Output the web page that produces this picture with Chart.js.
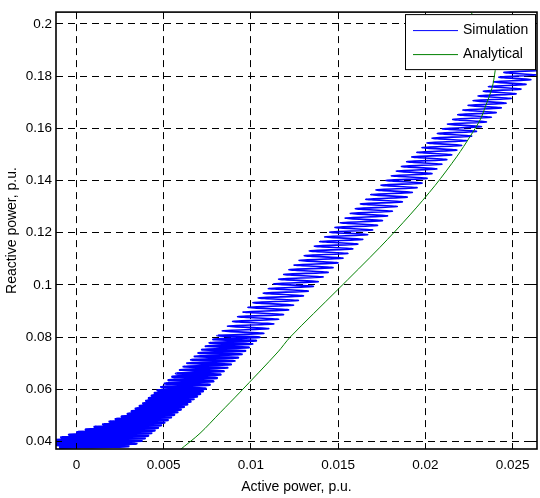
<!DOCTYPE html>
<html><head><meta charset="utf-8">
<script src="https://cdn.jsdelivr.net/npm/chart.js@4.4.0/dist/chart.umd.min.js"></script>
<style>html,body{margin:0;padding:0;background:#fff;} canvas{display:block;}</style>
</head><body>
<canvas id="c" width="540" height="498"></canvas>
<script>
// ---- axis ticks ----
const xTicks = [0, 0.005, 0.01, 0.015, 0.02, 0.025];
const xTickLabels = ['0', '0.005', '0.01', '0.015', '0.02', '0.025'];
const yTicks = [0.04, 0.06, 0.08, 0.1, 0.12, 0.14, 0.16, 0.18, 0.2];
const yTickLabels = ['0.04', '0.06', '0.08', '0.1', '0.12', '0.14', '0.16', '0.18', '0.2'];
const xRange = [-0.001175, 0.0264];
const yRange = [0.0371, 0.2045];

// ---- Simulation: oscillating trajectory, each swing from a left end to a right end ----
const simLeftX = [
  -0.0010, -0.0012, -0.0013, -0.00119, -0.00087, -0.00042, 0.00005, 0.00054, 0.00104, 0.00153,
  0.0019, 0.00225, 0.0026, 0.00294, 0.00317, 0.0034, 0.00363, 0.00383, 0.004, 0.00416,
  0.00432, 0.00449, 0.00465,
  0.00486, 0.00507, 0.00528, 0.0055, 0.00571, 0.00592, 0.00613, 0.00634, 0.00656, 0.00677,
  0.00698, 0.00719, 0.0074, 0.00762, 0.00783,
  0.00807, 0.00836, 0.00866, 0.00895, 0.00924, 0.00954, 0.00983, 0.01012, 0.01042, 0.01071,
  0.011, 0.0113, 0.01159, 0.01188, 0.01218, 0.01247, 0.01276, 0.01306, 0.01335, 0.01364,
  0.01394, 0.01423, 0.01452, 0.01482, 0.01511, 0.0154, 0.0157, 0.01599, 0.01628, 0.01658,
  0.01687, 0.01717, 0.01746, 0.01775, 0.01805, 0.01834, 0.01863, 0.01893, 0.01922, 0.01951,
  0.01981, 0.0201, 0.02039, 0.02069, 0.02098, 0.02127, 0.02157, 0.02186, 0.02215, 0.02245,
  0.02274, 0.02303, 0.02333, 0.02362, 0.02391, 0.02421, 0.0245
];
const simLeftY = [
  0.0376, 0.0386, 0.0396, 0.0406, 0.0416, 0.0426, 0.0436, 0.0446, 0.0456, 0.0466,
  0.0476, 0.0486, 0.0496, 0.0506, 0.0516, 0.0526, 0.0536, 0.0546, 0.0556, 0.0566,
  0.0576, 0.0586, 0.0596,
  0.0609, 0.0622, 0.0635, 0.0648, 0.0661, 0.0674, 0.0687, 0.0700, 0.0713, 0.0726,
  0.0739, 0.0752, 0.0765, 0.0778, 0.0791,
  0.0806, 0.0824, 0.0842, 0.0860, 0.0878, 0.0896, 0.0914, 0.0932, 0.0950, 0.0968,
  0.0986, 0.1004, 0.1022, 0.1040, 0.1058, 0.1076, 0.1094, 0.1112, 0.1130, 0.1148,
  0.1166, 0.1184, 0.1202, 0.1220, 0.1238, 0.1256, 0.1274, 0.1292, 0.1310, 0.1328,
  0.1346, 0.1364, 0.1382, 0.1400, 0.1418, 0.1436, 0.1454, 0.1472, 0.1490, 0.1508,
  0.1526, 0.1544, 0.1562, 0.1580, 0.1598, 0.1616, 0.1634, 0.1652, 0.1670, 0.1688,
  0.1706, 0.1724, 0.1742, 0.1760, 0.1778, 0.1796, 0.1814
];
const simRightX = [
  0.00297, 0.00343, 0.00372, 0.00391, 0.0041, 0.00428, 0.00447, 0.00466, 0.00484, 0.00503,
  0.00522, 0.00541, 0.00559, 0.00578, 0.00597, 0.00615, 0.00634, 0.00653, 0.00671, 0.0069,
  0.00708, 0.00724, 0.0074,
  0.00763, 0.00784, 0.00804, 0.00825, 0.00845, 0.00866, 0.00886, 0.00907, 0.00927, 0.00948,
  0.00968, 0.00989, 0.01009, 0.0103, 0.0105,
  0.01074, 0.01102, 0.01131, 0.01159, 0.01187, 0.01216, 0.01244, 0.01272, 0.01301, 0.01329,
  0.01358, 0.01386, 0.01414, 0.01443, 0.01471, 0.01499, 0.01528, 0.01556, 0.01584, 0.01613,
  0.01641, 0.01669, 0.01698, 0.01726, 0.01754, 0.01783, 0.01811, 0.01839, 0.01868, 0.01896,
  0.01925, 0.01953, 0.01981, 0.0201, 0.02038, 0.02066, 0.02095, 0.02123, 0.02151, 0.0218,
  0.02208, 0.02236, 0.02265, 0.02293, 0.02321, 0.0235, 0.02378, 0.02406, 0.02435, 0.02463,
  0.02492, 0.0252, 0.02548, 0.02577, 0.02605, 0.02633, 0.0268
];
const simRightY = [
  0.0382, 0.0392, 0.0402, 0.0412, 0.0422, 0.0432, 0.0442, 0.0452, 0.0462, 0.0472,
  0.0482, 0.0492, 0.0502, 0.0512, 0.0522, 0.0532, 0.0542, 0.0552, 0.0562, 0.0572,
  0.0582, 0.0592, 0.0602,
  0.0617, 0.0630, 0.0643, 0.0656, 0.0669, 0.0682, 0.0695, 0.0708, 0.0721, 0.0734,
  0.0747, 0.0760, 0.0773, 0.0786, 0.0799,
  0.0814, 0.0832, 0.0850, 0.0868, 0.0886, 0.0904, 0.0922, 0.0940, 0.0958, 0.0976,
  0.0994, 0.1012, 0.1030, 0.1048, 0.1066, 0.1084, 0.1102, 0.1120, 0.1138, 0.1156,
  0.1174, 0.1192, 0.1210, 0.1228, 0.1246, 0.1264, 0.1282, 0.1300, 0.1318, 0.1336,
  0.1354, 0.1372, 0.1390, 0.1408, 0.1426, 0.1444, 0.1462, 0.1480, 0.1498, 0.1516,
  0.1534, 0.1552, 0.1570, 0.1588, 0.1606, 0.1624, 0.1642, 0.1660, 0.1678, 0.1696,
  0.1714, 0.1732, 0.1750, 0.1768, 0.1786, 0.1804, 0.1822
];

// ---- Analytical curve ----
const anaP = [0.0059, 0.00708, 0.00823, 0.00938, 0.01155, 0.01224, 0.01494, 0.0174, 0.01912, 0.02056,
  0.02182, 0.02256, 0.02314, 0.02343, 0.02383, 0.024, 0.02406, 0.02394, 0.02365, 0.02325, 0.02279, 0.02228];
const anaQ = [0.0366, 0.0431, 0.0510, 0.0589, 0.0743, 0.0799, 0.0979, 0.1144, 0.1268, 0.1381,
  0.1493, 0.1568, 0.1632, 0.1681, 0.1756, 0.1820, 0.1861, 0.1906, 0.1948, 0.1993, 0.2030, 0.2068];

const seriesLabels = ['Simulation', 'Analytical'];
const seriesColors = ['#0000ff', '#008000'];

// build datasets
const simData = [];
for (let i = 0; i < simLeftX.length; i++) {
  simData.push({x: simLeftX[i], y: simLeftY[i]});
  simData.push({x: simRightX[i], y: simRightY[i]});
}
const anaData = anaP.map((p, i) => ({x: p, y: anaQ[i]}));

const FONT = "'Liberation Sans', Arial, Helvetica, sans-serif";

const axesBox = {
  id: 'axesBox',
  afterDatasetsDraw(chart) {
    const {ctx, chartArea: a, scales: {x, y}} = chart;
    const al = p => Math.round(p - 0.5) + 0.5;
    ctx.save();
    ctx.strokeStyle = '#000';
    ctx.lineWidth = 1;
    ctx.setLineDash([]);
    ctx.beginPath();
    x.ticks.forEach(t => {
      const px = al(x.getPixelForValue(t.value));
      ctx.moveTo(px, a.bottom); ctx.lineTo(px, a.bottom - 6);
      ctx.moveTo(px, a.top); ctx.lineTo(px, a.top + 6);
    });
    y.ticks.forEach(t => {
      const py = al(y.getPixelForValue(t.value));
      ctx.moveTo(a.left, py); ctx.lineTo(a.left + 6, py);
      ctx.moveTo(a.right, py); ctx.lineTo(a.right - 6, py);
    });
    ctx.stroke();
    ctx.lineWidth = 1.6;
    ctx.strokeRect(a.left, a.top, a.right - a.left, a.bottom - a.top);
    ctx.restore();
  }
};

const boxLegend = {
  id: 'boxLegend',
  afterDraw(chart) {
    const {ctx, chartArea: a} = chart;
    const x0 = a.right - 132, y0 = a.top + 2, w = 131, h = 56;
    ctx.save();
    ctx.fillStyle = '#fff';
    ctx.fillRect(x0, y0, w, h);
    ctx.strokeStyle = '#000';
    ctx.lineWidth = 1;
    ctx.setLineDash([]);
    ctx.strokeRect(x0 + 0.5, y0 + 0.5, w - 1, h - 1);
    ctx.font = '14px ' + FONT;
    ctx.textBaseline = 'middle';
    ctx.textAlign = 'left';
    [0, 1].forEach((k, row) => {
      const ds = chart.data.datasets[k];
      const cy = y0 + 16.5 + row * 24;
      ctx.strokeStyle = ds.borderColor;
      ctx.lineWidth = 1;
      ctx.beginPath();
      ctx.moveTo(x0 + 8, cy); ctx.lineTo(x0 + 53, cy);
      ctx.stroke();
      ctx.fillStyle = '#000';
      ctx.fillText(ds.label, x0 + 58, cy);
    });
    ctx.restore();
  }
};

new Chart(document.getElementById('c'), {
  type: 'scatter',
  data: {
    datasets: [
      {label: seriesLabels[0], data: simData, showLine: true, borderColor: seriesColors[0], backgroundColor: seriesColors[0],
       borderWidth: 1.6, pointRadius: 0, tension: 0.25, order: 1,
       segment: {borderWidth: c => (c.p0.parsed.y < 0.066 ? 2.6 : (c.p0.parsed.y < 0.08 ? 2.1 : 1.6))}},
      {label: seriesLabels[1], data: anaData, showLine: true, borderColor: seriesColors[1], backgroundColor: seriesColors[1],
       borderWidth: 1, pointRadius: 0, tension: 0.3, order: 0}
    ]
  },
  options: {
    responsive: false,
    animation: false,
    devicePixelRatio: 1,
    layout: {padding: {left: 0, right: 3, top: 3, bottom: 0}},
    plugins: {legend: {display: false}, tooltip: {enabled: false}},
    scales: {
      x: {
        type: 'linear', min: xRange[0], max: xRange[1],
        afterBuildTicks: s => { s.ticks = xTicks.map(v => ({value: v})); },
        afterFit: s => { s.height = 49; },
        ticks: {callback: (v, i) => xTickLabels[i], font: {family: FONT, size: 13.5}, color: '#000', padding: 8, maxRotation: 0, autoSkip: false},
        grid: {color: '#000', lineWidth: 1, drawTicks: false},
        border: {display: false, dash: [7, 5]},
        title: {display: true, text: 'Active power, p.u.', font: {family: FONT, size: 14}, color: '#000', padding: {top: 0, bottom: 2}}
      },
      y: {
        type: 'linear', min: yRange[0], max: yRange[1],
        afterBuildTicks: s => { s.ticks = yTicks.map(v => ({value: v})); },
        afterFit: s => { s.width = 56; },
        ticks: {callback: (v, i) => yTickLabels[i], font: {family: FONT, size: 13.5}, color: '#000', padding: 4, autoSkip: false},
        grid: {color: '#000', lineWidth: 1, drawTicks: false},
        border: {display: false, dash: [7, 5]},
        title: {display: true, text: 'Reactive power, p.u.', font: {family: FONT, size: 14}, color: '#000', padding: {top: 4, bottom: 0}}
      }
    }
  },
  plugins: [axesBox, boxLegend]
});
</script>
</body></html>
